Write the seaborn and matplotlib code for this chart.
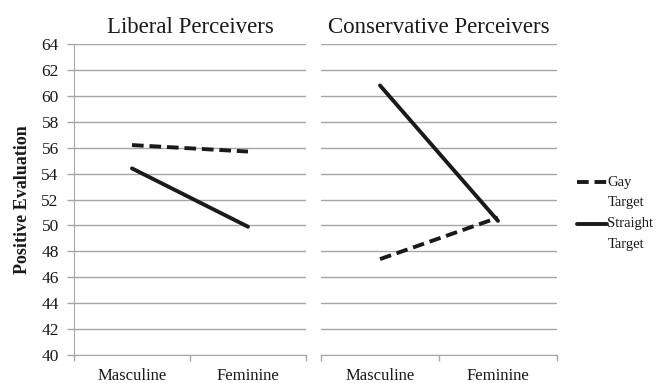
import matplotlib
matplotlib.use("Agg")
import matplotlib.pyplot as plt
import seaborn as sns
import pandas as pd
import numpy as np

categories = ["Masculine", "Feminine"]
panels = ["Liberal Perceivers", "Conservative Perceivers"]
series = ["Gay\nTarget", "Straight\nTarget"]
liberal_gay = [56.2, 55.7]
liberal_straight = [54.4, 49.9]
conservative_gay = [47.4, 50.6]
conservative_straight = [60.8, 50.35]
yticks = list(range(40, 65, 2))

rows = []
for panel, gay, straight in [(panels[0], liberal_gay, liberal_straight),
                             (panels[1], conservative_gay, conservative_straight)]:
    for i, c in enumerate(categories):
        rows.append({"panel": panel, "cat": c, "series": series[0], "value": gay[i]})
        rows.append({"panel": panel, "cat": c, "series": series[1], "value": straight[i]})
df = pd.DataFrame(rows)

sns.set_style("white")
plt.rcParams["font.family"] = ["Liberation Serif", "DejaVu Serif"]

W, H = 659, 383
fig = plt.figure(figsize=(W / 100, H / 100), dpi=100)
bottom = (H - 355) / H
height = (355 - 44) / H
ax1 = fig.add_axes([74 / W, bottom, (306 - 74) / W, height])
ax2 = fig.add_axes([321 / W, bottom, (557 - 321) / W, height])

grid_c = "#a6a6a6"
line_c = "#1a1a1a"
dash = (3.0, 1.5)

for ax, panel in [(ax1, panels[0]), (ax2, panels[1])]:
    sub = df[df["panel"] == panel]
    sns.lineplot(data=sub, x="cat", y="value", style="series", style_order=series,
                 dashes={series[0]: dash, series[1]: ""}, color=line_c,
                 linewidth=2.8, ax=ax, legend=(ax is ax2), sort=False)
    ax.set_xlim(-0.5, 1.5)
    ax.set_ylim(40, 64)
    ax.set_yticks(yticks)
    ax.yaxis.grid(True, color=grid_c, linewidth=1.0)
    ax.set_axisbelow(True)
    ax.set_xticks([-0.5, 0.5, 1.5])
    ax.set_xticklabels([])
    ax.set_xticks([0, 1], minor=True)
    ax.set_xticklabels(categories, minor=True, fontsize=12, color="#1a1a1a")
    ax.tick_params(axis="x", which="major", direction="out", length=4,
                   color=grid_c, width=1, bottom=True)
    ax.tick_params(axis="x", which="minor", length=0, pad=9.5)
    ax.set_xlabel("")
    ax.set_title(panel, fontsize=16.5, pad=8, color="#1a1a1a")
    for s in ["top", "right"]:
        ax.spines[s].set_visible(False)
    ax.spines["bottom"].set_color(grid_c)
    ax.spines["left"].set_color(grid_c)

ax1.tick_params(axis="y", direction="out", length=5, color=grid_c, width=1,
                labelsize=12.5, labelcolor="#1a1a1a", left=True, pad=6)
ax1.set_ylabel("Positive Evaluation", fontsize=13, fontweight="bold", labelpad=7,
               color="#1a1a1a")
ax2.spines["left"].set_visible(False)
ax2.set_yticklabels([])
ax2.tick_params(axis="y", length=0)
ax2.set_ylabel("")

handles, labels = ax2.get_legend_handles_labels()
ax2.get_legend().remove()
leg = fig.legend(handles, labels, loc="upper left", bbox_to_anchor=(571 / W, 1 - 170 / H),
                 frameon=False, fontsize=10.5, handlelength=2.05, handletextpad=0.05,
                 labelspacing=0.55, borderaxespad=0)
for t in leg.get_texts():
    t.set_linespacing(1.75)
    t.set_color("#1a1a1a")
for h in leg.legend_handles:
    h.set_ydata(np.asarray(h.get_ydata(), dtype=float) + 7.4)

fig.savefig("out.png", dpi=100)
